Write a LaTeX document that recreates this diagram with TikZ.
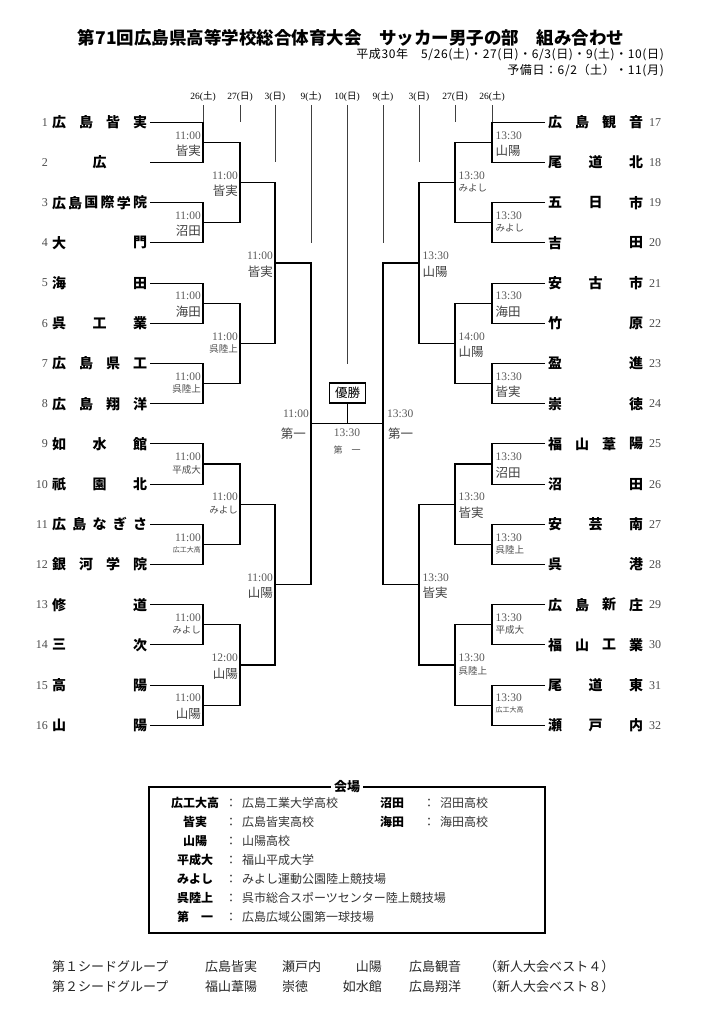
\documentclass[tikz,border=0pt]{standalone}
\usepackage{fontspec}
\setmainfont{Noto Sans CJK JP}
\newfontfamily\numf{Liberation Serif}
\usetikzlibrary{positioning}

\begin{document}
\begin{tikzpicture}[x=1pt, y=-1pt,
  bracket/.style={line width=1.1pt},
  tick/.style={line width=0.6pt, black!75},
  team/.style={inner sep=0pt, font=\fontsize{14}{14}\selectfont\bfseries},
  seedno/.style={inner sep=0pt, font=\numf\fontsize{12}{12}\selectfont, text=black!70},
  tm/.style={inner sep=0pt, yshift=7pt, font=\numf\fontsize{11.5}{12}\selectfont, text=black!65},
  vb/.style={inner sep=0pt, yshift=-8.5pt, font=\fontsize{12.5}{13}\selectfont, text=black!75},
  vs/.style={inner sep=0pt, yshift=-5.5pt, font=\fontsize{9.5}{10}\selectfont, text=black!70},
  vt/.style={inner sep=0pt, yshift=-5pt, font=\fontsize{7}{8}\selectfont, text=black!70},
  day/.style={inner sep=0pt, font=\fontsize{9.5}{10}\selectfont},
  key/.style={inner sep=0pt, font=\fontsize{12}{12}\selectfont\bfseries},
  val/.style={inner sep=0pt, anchor=west, font=\fontsize{12}{12}\selectfont, text=black!80},
  seed/.style={inner sep=0pt, anchor=west, font=\fontsize{13}{13}\selectfont, text=black!85},
  sub/.style={inner sep=0pt, anchor=east, font=\fontsize{12}{12}\selectfont\addfontfeature{LetterSpace=5}}]
\fill[white] (0,0) rectangle (710,1024);

\node[inner sep=0pt, font=\fontsize{17.5}{18}\selectfont\bfseries] (title) at (351,38) {第71回広島県高等学校総合体育大会　サッカー男子の部　組み合わせ};
\node[sub] (dates) at (664,55) {平成30年　5/26(土)・27(日)・6/3(日)・9(土)・10(日)};
\node[sub] (spare) at (664,71) {予備日：6/2（土）・11(月)};

% bracket points, round 0 = team lines
\foreach \r/\xl/\xr in {0/150/545,1/203/492,2/240/455,3/275/419,4/311/383} {
  \pgfmathtruncatemacro\g{2^\r}
  \pgfmathtruncatemacro\m{16/\g}
  \foreach \k in {1,...,\m} {
    \pgfmathsetmacro\y{122.3+((\k-1)*\g+(\g-1)/2)*40.2}
    \coordinate (L-\r-\k) at (\xl,\y);
    \coordinate (R-\r-\k) at (\xr,\y);
  }
}
\foreach \r in {1,...,4} {
  \pgfmathtruncatemacro\p{\r-1}
  \pgfmathtruncatemacro\m{16/2^\r}
  \foreach \k in {1,...,\m} {
    \pgfmathtruncatemacro\a{2*\k-1}
    \pgfmathtruncatemacro\b{2*\k}
    \draw[bracket] (L-\p-\a) -| (L-\r-\k) |- (L-\p-\b);
    \draw[bracket] (R-\p-\a) -| (R-\r-\k) |- (R-\p-\b);
  }
}
\draw[bracket] (L-4-1) -- (R-4-1);

% dates
\foreach \i/\x/\d/\w/\e in {1/203/26/土/L-0-1, 2/240/27/日/L-0-1, 3/275/3/日/L-0-2, 4/311/9/土/L-0-4, 5/347/10/日/L-0-7, 6/383/9/土/L-0-4, 7/419/3/日/L-0-2, 8/455/27/日/L-0-1, 9/492/26/土/L-0-1} {
  \node[day] (day\i) at (\x,97) {{\numf\d(}\w{\numf)}};
  \draw[tick] ([yshift=-3pt]day\i.south) -- (day\i |- \e);
}

% teams
\foreach \n/\c/\s in {1/4/{広,島,皆,実}, 2/1/{広}, 3/6/{広,島,国,際,学,院}, 4/2/{大,門}, 5/2/{海,田}, 6/3/{呉,工,業}, 7/4/{広,島,県,工}, 8/4/{広,島,翔,洋}, 9/3/{如,水,館}, 10/3/{祇,園,北}, 11/5/{広,島,な,ぎ,さ}, 12/4/{銀,河,学,院}, 13/2/{修,道}, 14/2/{三,次}, 15/2/{高,陽}, 16/2/{山,陽}} {
  \node[seedno, anchor=east] (no\n) at (48, {122.3+(\n-1)*40.2}) {\n};
  \foreach \ch [count=\j] in \s
    \node[team] (tn\n-\j) at ({59+(\c==1)*40.5+(\j-1)*81/max(\c-1,1)}, {122.3+(\n-1)*40.2}) {\ch};
}
\foreach \n/\c/\s in {17/4/{広,島,観,音}, 18/3/{尾,道,北}, 19/3/{五,日,市}, 20/2/{吉,田}, 21/3/{安,古,市}, 22/2/{竹,原}, 23/2/{盈,進}, 24/2/{崇,徳}, 25/4/{福,山,葦,陽}, 26/2/{沼,田}, 27/3/{安,芸,南}, 28/2/{呉,港}, 29/4/{広,島,新,庄}, 30/4/{福,山,工,業}, 31/3/{尾,道,東}, 32/3/{瀬,戸,内}} {
  \node[seedno, anchor=west] (no\n) at (649, {122.3+(\n-17)*40.2}) {\n};
  \foreach \ch [count=\j] in \s
    \node[team] (tn\n-\j) at ({555+(\c==1)*40.5+(\j-1)*81/max(\c-1,1)}, {122.3+(\n-17)*40.2}) {\ch};
}

% match times and grounds
\foreach \r/\k/\t/\v/\s in {1/1/11:00/皆実/vb, 1/2/11:00/沼田/vb, 1/3/11:00/海田/vb, 1/4/11:00/呉陸上/vs, 1/5/11:00/平成大/vs, 1/6/11:00/広工大高/vt, 1/7/11:00/みよし/vs, 1/8/11:00/山陽/vb, 2/1/11:00/皆実/vb, 2/2/11:00/呉陸上/vs, 2/3/11:00/みよし/vs, 2/4/12:00/山陽/vb, 3/1/11:00/皆実/vb, 3/2/11:00/山陽/vb} {
  \node[tm, anchor=east] (lt-\r-\k) at ([xshift=-2pt]L-\r-\k) {\t};
  \node[\s, anchor=east] (lv-\r-\k) at ([xshift=-2pt]L-\r-\k) {\v};
}
\foreach \r/\k/\t/\v/\s in {1/1/13:30/山陽/vb, 1/2/13:30/みよし/vs, 1/3/13:30/海田/vb, 1/4/13:30/皆実/vb, 1/5/13:30/沼田/vb, 1/6/13:30/呉陸上/vs, 1/7/13:30/平成大/vs, 1/8/13:30/広工大高/vt, 2/1/13:30/みよし/vs, 2/2/14:00/山陽/vb, 2/3/13:30/皆実/vb, 2/4/13:30/呉陸上/vs, 3/1/13:30/山陽/vb, 3/2/13:30/皆実/vb} {
  \node[tm, anchor=west] (rt-\r-\k) at ([xshift=3.5pt]R-\r-\k) {\t};
  \node[\s, anchor=west] (rv-\r-\k) at ([xshift=3.5pt]R-\r-\k) {\v};
}
\node[tm, anchor=east, yshift=3pt] (lt-4) at ([xshift=-2pt]L-4-1) {11:00};
\node[vb, anchor=east, yshift=-1.5pt] (lv-4) at ([xshift=-5pt]L-4-1) {第一};
\node[tm, anchor=west, yshift=3pt] (rt-4) at ([xshift=4pt]R-4-1) {13:30};
\node[vb, anchor=west, yshift=-1.5pt] (rv-4) at ([xshift=5pt]R-4-1) {第一};

% final
\node[draw, line width=1.8pt, inner sep=2pt, minimum width=36pt, minimum height=20pt, font=\fontsize{12.5}{13}\selectfont] (champ) at (347.5,393) {優勝};
\draw[bracket] (champ) -- (champ |- L-4-1);
\node[tm, yshift=-17pt] (ft) at (347,423) {13:30};
\node[inner sep=0pt, font=\fontsize{9}{9}\selectfont, text=black!70] (fv) at (347,450) {第　一};

% grounds
\node[draw, line width=1.1pt, minimum width=396pt, minimum height=146pt, inner sep=0pt] (venuebox) at (347,860) {};
\node[fill=white, inner xsep=3pt, inner ysep=1pt, font=\fontsize{13}{13}\selectfont\bfseries] (venuetitle) at (venuebox.north) {会場};
\foreach \i/\k/\v in {1/広工大高/広島工業大学高校, 2/皆実/広島皆実高校, 3/山陽/山陽高校, 4/平成大/福山平成大学, 5/みよし/みよし運動公園陸上競技場, 6/呉陸上/呉市総合スポーツセンター陸上競技場, 7/第　一/広島広域公園第一球技場} {
  \node[key] (key\i) at (195, {803+(\i-1)*19}) {\k};
  \node[val] (colon\i) at (225, {803+(\i-1)*19}) {：};
  \node[val] (val\i) at (242, {803+(\i-1)*19}) {\v};
}
\foreach \i/\k/\v in {8/沼田/沼田高校, 9/海田/海田高校} {
  \node[key, anchor=west] (key\i) at (380, {803+(\i-8)*19}) {\k};
  \node[val] (colon\i) at (423, {803+(\i-8)*19}) {：};
  \node[val] (val\i) at (440, {803+(\i-8)*19}) {\v};
}

% seeds
\foreach \i/\g/\a/\b/\c/\d/\e in {1/第１シードグループ/広島皆実/瀬戸内/山陽/広島観音/（新人大会ベスト４）, 2/第２シードグループ/福山葦陽/崇徳/如水館/広島翔洋/（新人大会ベスト８）} {
  \node[seed] (sg\i) at (52, {947+\i*20}) {\g};
  \node[seed] (sa\i) at (205, {947+\i*20}) {\a};
  \node[seed] (sb\i) at (282, {947+\i*20}) {\b};
  \node[seed, anchor=east] (sc\i) at (382, {947+\i*20}) {\c};
  \node[seed] (sd\i) at (409, {947+\i*20}) {\d};
  \node[seed] (se\i) at (484, {947+\i*20}) {\e};
}
\end{tikzpicture}
\end{document}
